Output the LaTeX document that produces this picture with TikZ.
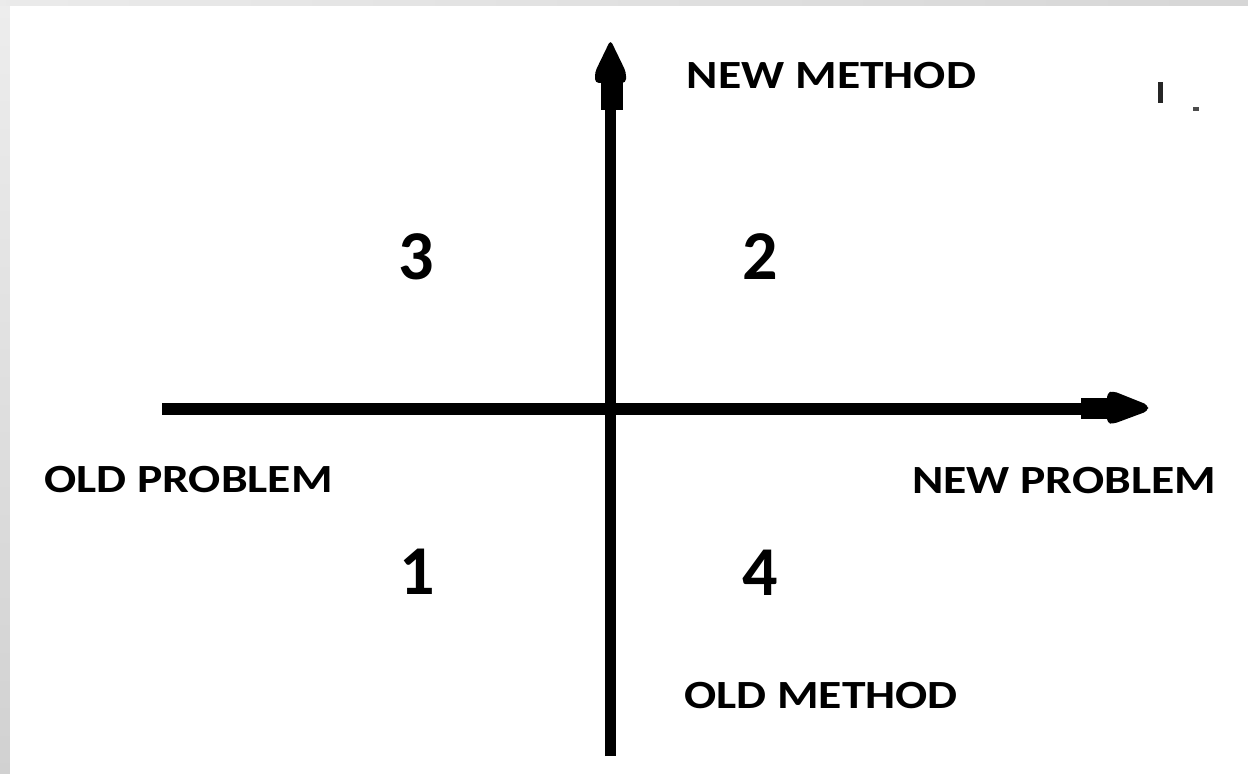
\documentclass[tikz,border=0pt]{standalone}
\usepackage{fontspec}
\setmainfont{Carlito}
\newfontfamily\widefont[FakeStretch=1.19]{Carlito}
\begin{document}
\begin{tikzpicture}[x=0.5pt,y=-0.5pt,
  axisline/.style={line width=5.75pt,black},
  headfill/.style={fill=black},
  lbl/.style={inner sep=0pt,font=\widefont\fontsize{20pt}{24pt}\selectfont\bfseries,anchor=base},
  num/.style={inner sep=0pt,font=\fontsize{35pt}{40pt}\selectfont\bfseries,anchor=base}]
\useasboundingbox (0,0) rectangle (1248,774);
% frame
\shade[top color=black!7,bottom color=black!18] (0,0) rectangle (10,774);
\shade[left color=black!8,right color=black!16] (0,0) rectangle (1248,6);
\fill[white] (10,6) rectangle (1248,774);
% vertical axis
\coordinate (vb) at (610.5,756);
\coordinate (vt) at (610.5,109);
\draw[axisline] (vb) -- (vt);
\fill[headfill] (601,82) rectangle (623,110);
\fill[headfill,rounded corners=2pt] (595,83) -- (595,72) -- (610.5,40) -- (626,72) -- (626,83) -- cycle;
% horizontal axis
\coordinate (hl) at (162,409);
\coordinate (hr) at (1082,409);
\draw[axisline] (hl) -- (hr);
\fill[headfill] (1081,398) rectangle (1110,419);
\fill[headfill,rounded corners=2pt] (1107,393) -- (1113,391) -- (1148,405) -- (1148,411) -- (1113,424) -- (1107,423) -- cycle;
% labels
\node[lbl] (newmethod) at (831.5,89) {NEW METHOD};
\node[lbl] (oldproblem) at (188.5,493) {OLD PROBLEM};
\node[lbl] (newproblem) at (1064,494) {NEW PROBLEM};
\node[lbl] (oldmethod) at (821,709) {OLD METHOD};
\node[num] (q3) at (416.5,280) {3};
\node[num] (q2) at (760.5,280) {2};
\node[num] (q1) at (417,595) {1};
\node[num] (q4) at (760.5,596) {4};
% small marks top right
\fill[black!85] (1158,82) rectangle (1163,103);
\fill[black!70] (1193,107) rectangle (1199,111);
\end{tikzpicture}
\end{document}
